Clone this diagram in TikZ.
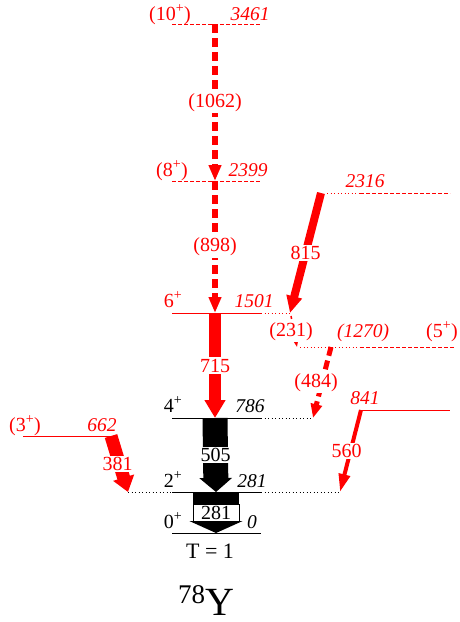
\documentclass[tikz,border=0pt]{standalone}
\usepackage{fontspec}
\setmainfont{Liberation Serif}
\usetikzlibrary{arrows.meta}
\tikzset{>=latex}
\tikzset{
  lvl/.style={line width=1pt},
  lvldash/.style={line width=1pt, dash pattern=on 4pt off 2pt},
  lvldot/.style={line width=1pt, dash pattern=on 1pt off 2.5pt},
  spin/.style={anchor=base, inner sep=0pt, font=\fontsize{20}{22}\selectfont},
  enrg/.style={anchor=base, inner sep=0pt, font=\fontsize{19.5}{21}\selectfont\itshape},
  glab/.style={fill=white, inner sep=1.5pt, font=\fontsize{20}{22}\selectfont},
  gdash/.style={dash pattern=on 9pt off 5pt},
}

\begin{document}
\begin{tikzpicture}[x=1pt, y=-1pt]
      \useasboundingbox (0,0) rectangle (459,622);
      % level ends
      \coordinate (L10w) at (172,24);
      \coordinate (L10e) at (261,24);
      \coordinate (L8w) at (172,181);
      \coordinate (L8e) at (261,181);
      \coordinate (L6w) at (172,313);
      \coordinate (L6e) at (261,313);
      \coordinate (L6d) at (290,313);
      \coordinate (L4w) at (172,418);
      \coordinate (L4e) at (261,418);
      \coordinate (L4d) at (313,418);
      \coordinate (L2l) at (128,492);
      \coordinate (L2w) at (172,492);
      \coordinate (L2e) at (261,492);
      \coordinate (L2r) at (340,492);
      \coordinate (L0w) at (172,533);
      \coordinate (L0e) at (261,533);
      \coordinate (Ka) at (327,193);
      \coordinate (Kb) at (360,193);
      \coordinate (Kc) at (450,193);
      \coordinate (Ma) at (300,347);
      \coordinate (Mb) at (360,347);
      \coordinate (Mc) at (455,347);
      \coordinate (Pw) at (23,436);
      \coordinate (Pe) at (118,436);
      \coordinate (Qw) at (361,410);
      \coordinate (Qe) at (450,410);
      % transition ends
      \coordinate (g10) at (215,24);
      \coordinate (g8) at (215,181);
      \coordinate (g6) at (215,313);
      \coordinate (g4) at (215,418);
      \coordinate (g2) at (216,492);
      \coordinate (g0) at (216,533);
      \coordinate (K815) at (321,193);
      \coordinate (L6s) at (291,316);
      \coordinate (M231) at (297,347);
      \coordinate (M484) at (331,347);
      \coordinate (P381) at (111,436);

      \draw[red, lvldash] (L10w) -- (L10e);
      \draw[red, lvldash] (L8w) -- (L8e);
      \draw[red, lvl] (L6w) -- (L6e);
      \draw[red, lvldot] (L6e) -- (L6d);
      \draw[red, lvldot] (Ka) -- (Kb);
      \draw[red, lvldash] (Kb) -- (Kc);
      \draw[red, lvldot] (Ma) -- (Mb);
      \draw[red, lvldash] (Mb) -- (Mc);
      \draw[lvl] (L4w) -- (L4e);
      \draw[lvldot] (L4e) -- (L4d);
      \draw[red, lvl] (Pw) -- (Pe);
      \draw[red, lvl] (Qw) -- (Qe);
      \draw[lvldot] (L2l) -- (L2w);
      \draw[lvl] (L2w) -- (L2e);
      \draw[lvldot] (L2e) -- (L2r);
      \draw[lvl] (L0w) -- (L0e);

      % gamma rays
      \draw[red, gdash, line width=6pt, -{Triangle[width=12pt,length=16pt]}]
            (g10) -- node[glab, text=red, solid] {(1062)} (g8);
      \draw[red, gdash, line width=6pt, -{Triangle[width=12pt,length=16pt]}]
            (g8) -- node[glab, text=red] {(898)} (g6);
      \draw[red, line width=12pt, -{Triangle[width=20pt,length=18pt]}]
            (g6) -- node[glab, text=red] {715} (g4);
      \draw[line width=25pt, -{Triangle[width=32pt,length=14pt]}]
            (g4) -- node[glab] {505} (g2);
      \draw[line width=46pt, -{Triangle[width=53pt,length=12pt]}] (g2) -- (g0);
      \node[draw, fill=white, line width=0.6pt, minimum width=46pt, minimum height=17pt,
            inner sep=0pt, font=\fontsize{20}{22}\selectfont] (b281) at (216,512.5) {281};
      \draw[red, line width=8pt, -{Triangle[width=15pt,length=17pt]}]
            (K815) -- node[glab, text=red] {815} (L6d);
      \draw[red, dashed, line width=1.5pt, -{Triangle[width=5pt,length=7pt]}]
            (L6s) -- node[glab, text=red, xshift=-3pt] {(231)} (M231);
      \draw[red, gdash, line width=5pt, -{Triangle[width=11pt,length=14pt]}]
            (M484) -- node[glab, text=red, xshift=-6pt] {(484)} (L4d);
      \draw[red, line width=13pt, -{Triangle[width=21pt,length=15pt]}]
            (P381) -- node[glab, text=red, xshift=-2pt] {381} (L2l);
      \draw[red, line width=4pt, -{Triangle[width=11pt,length=18pt]}]
            (Qw) -- node[glab, text=red, xshift=-4pt] {560} (L2r);

      % spins and energies
      \node[spin, red] (j10) at (170,20) {(10\textsuperscript{+})};
      \node[enrg, red] (e10) at (250,20) {3461};
      \node[spin, red] (j8) at (172,176) {(8\textsuperscript{+})};
      \node[enrg, red] (e8) at (248,176) {2399};
      \node[spin, red] (j6) at (173,307) {6\textsuperscript{+}};
      \node[enrg, red] (e6) at (254,307) {1501};
      \node[enrg, red] (eK) at (365,187) {2316};
      \node[enrg, red] (eM) at (363,337) {(1270)};
      \node[spin, red] (jM) at (442,337) {(5\textsuperscript{+})};
      \node[spin] (j4) at (173,412) {4\textsuperscript{+}};
      \node[enrg] (e4) at (250,412) {786};
      \node[spin, red] (jP) at (25,431) {(3\textsuperscript{+})};
      \node[enrg, red] (eP) at (102,431) {662};
      \node[enrg, red] (eQ) at (365,404) {841};
      \node[spin] (j2) at (173,487) {2\textsuperscript{+}};
      \node[enrg] (e2) at (252,487) {281};
      \node[spin] (j0) at (173,528) {0\textsuperscript{+}};
      \node[enrg] (e0) at (252,528) {0};
      \node[anchor=base, font=\fontsize{22}{24}\selectfont] (iso) at (210,558) {T = 1};
      \node[anchor=base, inner sep=0pt, text depth=0pt, font=\fontsize{40}{44}\selectfont] (nuc) at (206,615)
            {\raisebox{12pt}{\fontsize{27}{30}\selectfont 78}Y};
\end{tikzpicture}
\end{document}
